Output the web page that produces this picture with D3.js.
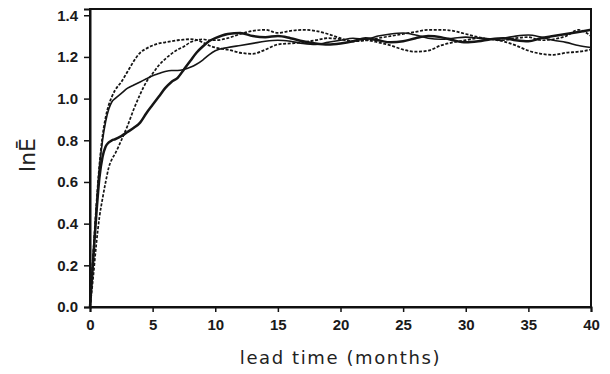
<!DOCTYPE html>
<html><head><meta charset="utf-8">
<script src="https://cdn.jsdelivr.net/npm/d3@7"></script>
<style>html,body{margin:0;padding:0;background:#fff;}svg{display:block;}</style>
</head><body>
<svg id="chart" width="610" height="374"></svg>
<script>
const months = [0,0.25,0.5,0.75,1,1.25,1.5,1.75,2,2.5,3,3.5,4,4.5,5,5.5,6,6.5,7,7.5,8,8.5,9,9.5,10,
  11,12,13,14,15,16,17,18,19,20,21,22,23,24,25,26,27,28,29,30,31,32,33,34,35,36,37,38,39,40];

const fastDashed = [0,0.25,0.48,0.68,0.82,0.91,0.97,1.01,1.04,1.08,1.13,1.18,1.22,1.24,1.255,1.265,1.27,1.275,1.28,1.283,1.285,1.282,1.27,1.255,1.245,
  1.235,1.22,1.215,1.235,1.26,1.265,1.27,1.28,1.29,1.285,1.275,1.28,1.27,1.255,1.235,1.225,1.23,1.255,1.27,1.28,1.29,1.285,1.275,1.255,1.23,1.215,1.21,1.22,1.225,1.235];

const slowDashed = [0,0.14,0.30,0.43,0.52,0.60,0.67,0.71,0.735,0.80,0.87,0.95,1.02,1.08,1.12,1.16,1.19,1.215,1.235,1.25,1.27,1.28,1.285,1.28,1.28,
  1.29,1.31,1.325,1.33,1.315,1.325,1.33,1.325,1.31,1.29,1.275,1.28,1.29,1.30,1.31,1.32,1.33,1.33,1.325,1.31,1.295,1.285,1.28,1.29,1.295,1.28,1.285,1.30,1.33,1.30];

const thinSolid = [0,0.24,0.47,0.67,0.80,0.89,0.95,0.985,1.0,1.025,1.05,1.065,1.08,1.095,1.11,1.12,1.13,1.135,1.135,1.14,1.15,1.165,1.185,1.21,1.23,
  1.245,1.255,1.265,1.275,1.28,1.275,1.265,1.26,1.27,1.28,1.29,1.285,1.30,1.31,1.315,1.305,1.29,1.285,1.29,1.295,1.29,1.285,1.29,1.30,1.305,1.295,1.28,1.27,1.255,1.245];

const thickSolid = [0,0.22,0.44,0.62,0.72,0.77,0.79,0.80,0.805,0.82,0.84,0.86,0.885,0.93,0.97,1.01,1.05,1.08,1.10,1.14,1.18,1.22,1.25,1.275,1.29,
  1.31,1.315,1.30,1.295,1.30,1.29,1.275,1.265,1.26,1.265,1.275,1.29,1.28,1.27,1.275,1.29,1.30,1.295,1.28,1.27,1.275,1.285,1.29,1.28,1.275,1.29,1.30,1.31,1.32,1.33];

const xTicks = [0,5,10,15,20,25,30,35,40];
const yTicks = [0,0.2,0.4,0.6,0.8,1.0,1.2,1.4];

const svg = d3.select("#chart");
const x = d3.scaleLinear().domain([0,40]).range([90,591]);
const y = d3.scaleLinear().domain([0,1.43]).range([307,9]);

const series = [
  {v: thinSolid, w: 1.6, dash: null},
  {v: thickSolid, w: 2.5, dash: null},
  {v: fastDashed, w: 1.8, dash: "3,1.6"},
  {v: slowDashed, w: 1.7, dash: "3,1.6"}
];

const line = d3.line().x((d,i)=>x(months[i])).y(d=>y(d)).curve(d3.curveMonotoneX);

svg.selectAll("path.s").data(series).join("path")
  .attr("class","s")
  .attr("d", d=>line(d.v))
  .attr("fill","none")
  .attr("stroke","#151515")
  .attr("stroke-width", d=>d.w)
  .attr("stroke-dasharray", d=>d.dash)
  .attr("stroke-linejoin","round");

// frame
svg.append("rect").attr("x",x(0)).attr("y",y(1.43)).attr("width",x(40)-x(0)).attr("height",y(0)-y(1.43))
  .attr("fill","none").attr("stroke","#111").attr("stroke-width",2);

const fmtY = d3.format(".1f");
const xAxis = d3.axisBottom(x).tickValues(xTicks).tickSize(5).tickPadding(7).tickFormat(d3.format("d"));
const yAxis = d3.axisLeft(y).tickValues(yTicks).tickSize(6).tickPadding(6).tickFormat(fmtY);

const gx = svg.append("g").attr("transform",`translate(0,${y(0)})`).call(xAxis);
const gy = svg.append("g").attr("transform",`translate(${x(0)},0)`).call(yAxis);
[gx,gy].forEach(g=>{
  g.select(".domain").attr("stroke","#111").attr("stroke-width",2);
  g.selectAll(".tick line").attr("stroke","#111").attr("stroke-width",1.5);
  g.selectAll(".tick text").attr("fill","#1a1a1a").attr("font-family","Liberation Sans, Arial, sans-serif")
    .attr("font-size",15).attr("font-weight","bold");
});

svg.append("text").attr("x",(x(0)+x(40))/2).attr("y",364).attr("text-anchor","middle")
  .attr("font-family","DejaVu Sans, sans-serif").attr("font-size",18).attr("letter-spacing",1.6)
  .attr("fill","#222").text("lead time (months)");

svg.append("text").attr("transform","translate(35,155) rotate(-90)").attr("text-anchor","middle")
  .attr("font-family","DejaVu Sans, sans-serif").attr("font-size",22)
  .attr("fill","#222").text("lnĒ");
</script>
</body></html>
